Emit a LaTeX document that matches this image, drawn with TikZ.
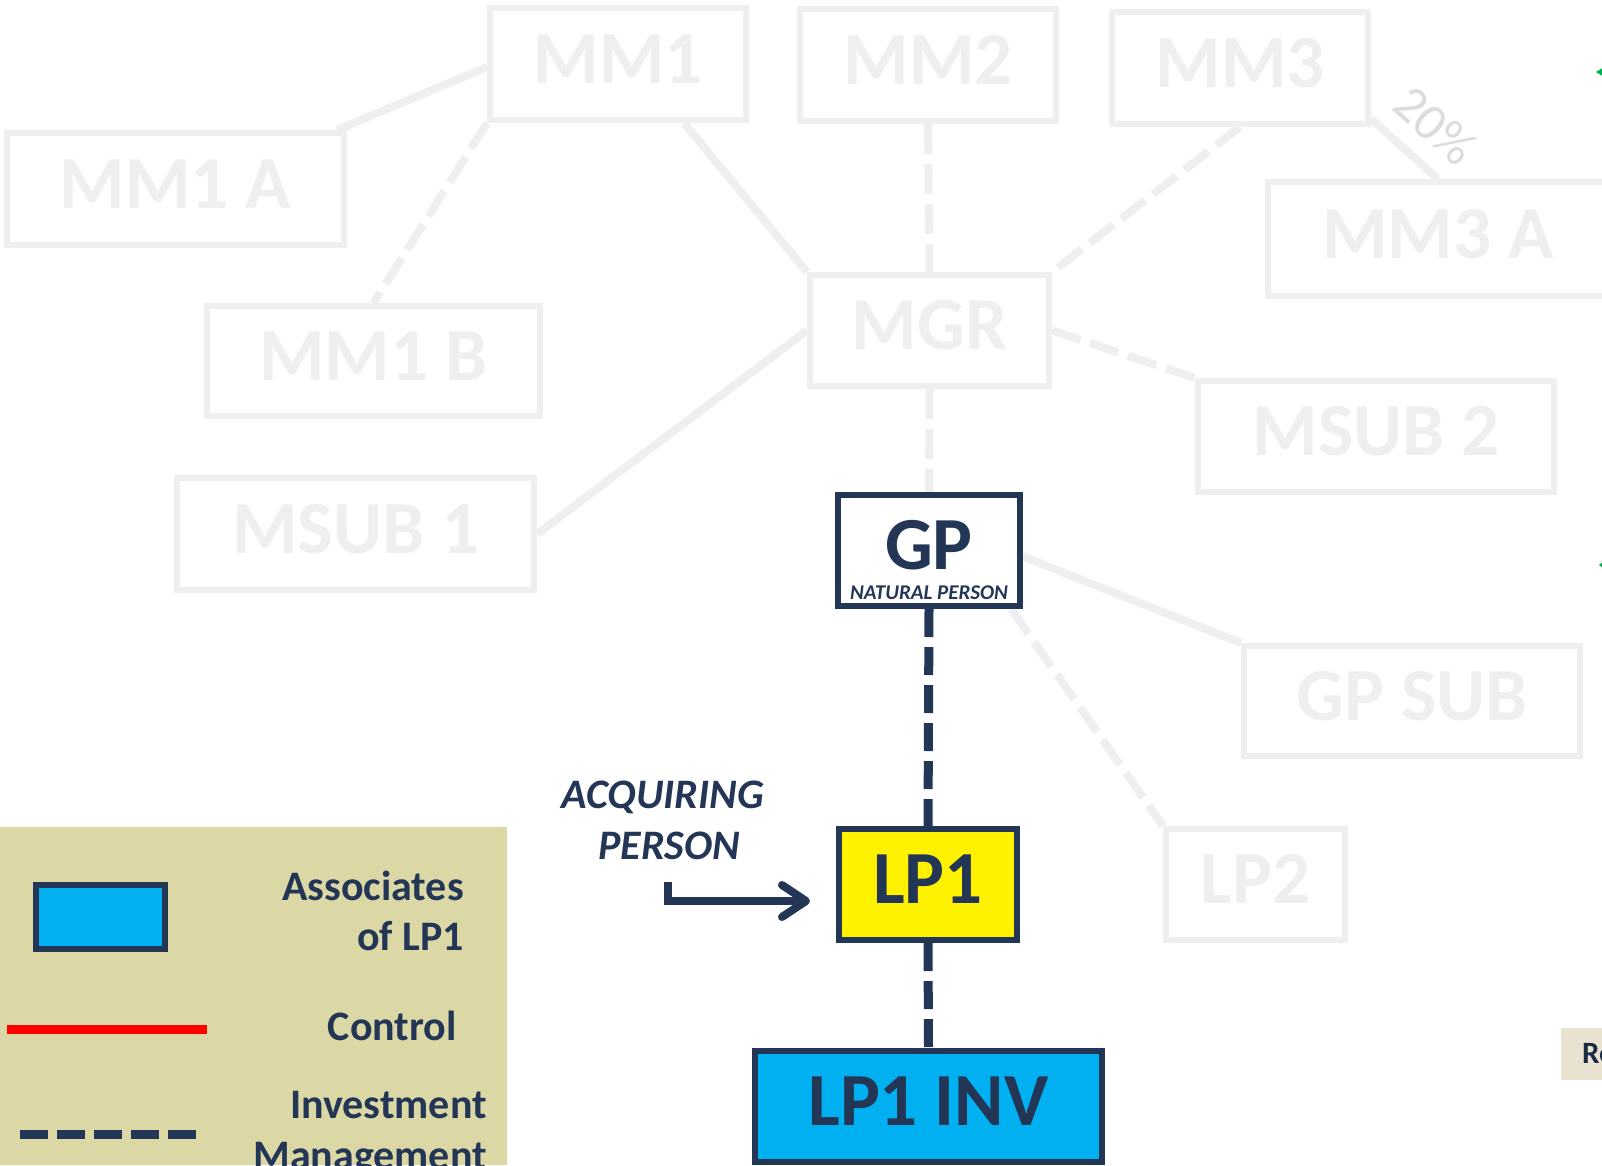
\documentclass[tikz,border=0pt]{standalone}
\usepackage{fontspec}
\setmainfont{Carlito}
\usetikzlibrary{arrows.meta,calc}
\definecolor{faint}{RGB}{238,239,241}
\definecolor{navy}{RGB}{35,54,86}
\definecolor{skyb}{RGB}{0,176,240}
\definecolor{legbg}{RGB}{220,216,166}
\definecolor{beige}{RGB}{233,226,208}
\definecolor{grn}{RGB}{0,176,80}
\begin{document}
\begin{tikzpicture}[x=1pt,y=-1pt,
  box/.style={draw=faint, fill=white, line width=6pt, inner sep=0pt,
    font=\fontsize{75}{80}\selectfont\bfseries, text=faint,
    text height=48pt, text depth=10pt},
  darkbox/.style={box, draw=navy, text=navy},
  fline/.style={draw=faint, line width=8pt},
  fdash/.style={fline, dash pattern=on 30pt off 10pt},
  ddash/.style={draw=navy, line width=9pt, dash pattern=on 28pt off 10pt},
  legtext/.style={text=navy, font=\fontsize{42}{50}\selectfont\bfseries, inner sep=0pt},
  acqtext/.style={text=navy, font=\fontsize{42}{50}\selectfont\bfseries\itshape, inner sep=0pt},
]
\pgfdeclarelayer{bg}
\pgfsetlayers{bg,main}
\useasboundingbox (0,0) rectangle (1602,1165);
\clip (0,0) rectangle (1602,1165);
\begin{pgfonlayer}{bg}
\fill[white] (0,0) rectangle (1602,1165);
\end{pgfonlayer}

% boxes
\node[box, minimum width=256pt, minimum height=112pt] (MM1) at (618,64) {MM1};
\node[box, minimum width=256pt, minimum height=112pt] (MM2) at (928,65) {MM2};
\node[box, minimum width=256pt, minimum height=112pt] (MM3) at (1240,68) {MM3};
\node[box, minimum width=337pt, minimum height=112pt] (MM1A) at (175.5,189) {MM1 A};
\node[box, minimum width=340pt, minimum height=114pt] (MM3A) at (1438,239) {MM3 A};
\node[box, minimum width=333pt, minimum height=110pt] (MM1B) at (373.5,361) {MM1 B};
\node[box, minimum width=239pt, minimum height=111pt] (MGR) at (929.5,330.5) {MGR};
\node[box, minimum width=356pt, minimum height=111pt] (MSUB2) at (1376,436.5) {MSUB 2};
\node[box, minimum width=357pt, minimum height=112pt] (MSUB1) at (355.5,534) {MSUB 1};
\node[box, minimum width=336pt, minimum height=110pt] (GPSUB) at (1412,701) {GP SUB};
\node[box, minimum width=179pt, minimum height=111pt] (LP2) at (1255.5,884.5) {LP2};
\node[darkbox, minimum width=182pt, minimum height=111pt] (GP) at (929,550.5) {};
\node[darkbox, fill=yellow, minimum width=178pt, minimum height=111pt] (LP1) at (928,884.5) {LP1};
\node[darkbox, fill=skyb, minimum width=347pt, minimum height=111pt] (LP1INV) at (928.5,1106) {LP1 INV};

\node[anchor=base, inner sep=0pt, text=navy, font=\fontsize{75}{80}\selectfont\bfseries] (GPt) at (929,569) {GP};
\node[anchor=base, inner sep=0pt, text=navy, font=\fontsize{21}{24}\selectfont\bfseries\itshape] (GPn) at (929,599) {NATURAL PERSON};

% connectors (behind boxes)
\begin{pgfonlayer}{bg}
\draw[fline] ($(MM1.west)+(0,3)$) -- ($(MM1A.north east)+(-10,0)$);
\draw[fdash] (MM1.south west) -- (MM1B.north);
\draw[fline] ($(MM1.south)+(66,0)$) -- (MGR.north west);
\draw[fdash] (MM2.south) -- (MGR.north);
\draw[fdash] (MM3.south) -- (MGR.north east);
\draw[fline] ($(MM3.south east)+(0,-8)$) -- (MM3A.north)
  node[pos=0.58, sloped, above=16pt, inner sep=0pt, text=faint!92!black, font=\fontsize{52}{52}\selectfont] (pct) {20\%};
\draw[fdash] (MGR.east) -- (MSUB2.north west);
\draw[fline] (MGR.west) -- (MSUB1.east);
\draw[fdash] (MGR.south) -- (GP.north);
\draw[fline] ($(GP.east)+(0,6)$) -- (GPSUB.north west);
\draw[fdash] ($(GP.south east)+(-12,0)$) -- (LP2.north west);
\draw[ddash] (GP.south) -- (LP1.north);
\draw[ddash] (LP1.south) -- (LP1INV.north);
\end{pgfonlayer}

% acquiring person
\node[acqtext, anchor=base] (acq1) at (663,808) {ACQUIRING};
\node[acqtext, anchor=base] (acq2) at (669,859) {PERSON};
\coordinate (acq) at (668,882);
\draw[navy, line width=8pt, -{Straight Barb[length=24pt,width=32pt,round]}]
  (acq) |- ($(LP1.west)+(-26,16.5)$);

% legend
\node[fill=legbg, minimum width=507pt, minimum height=338pt, inner sep=0pt, anchor=north west] (legend) at (0,827) {};
\node[draw=navy, fill=skyb, line width=6pt, minimum width=129pt, minimum height=64pt, inner sep=0pt] (legbox) at (100.5,917) {};
\coordinate (redA) at (7,1029);
\coordinate (redB) at (207,1029);
\draw[red, line width=9pt] (redA) -- (redB);
\coordinate (dA) at (20,1134);
\coordinate (dB) at (196,1134);
\draw[navy, line width=9pt, dash pattern=on 28pt off 9pt] (dA) -- (dB);
\node[legtext, anchor=base east] (l1) at (464,900) {Associates};
\node[legtext, anchor=base east] (l2) at (464,950) {of LP1};
\node[legtext, anchor=base east] (l3) at (457,1040) {Control};
\node[legtext, anchor=base east] (l4) at (487,1118) {Investment};
\node[legtext, anchor=base east] (l5) at (487,1169) {Management};

% right-edge fragments
\node[fill=beige, minimum width=50pt, minimum height=52pt, inner sep=0pt, anchor=north west] (rbox) at (1561,1028) {};
\node[anchor=base west, inner sep=0pt, text=navy!80!black, font=\fontsize{31}{34}\selectfont\bfseries] (rtext) at (1582,1063) {Re};
\fill[grn] (1596,72) -- (1604,67) -- (1604,77) -- cycle;
\fill[grn] (1599,565) -- (1604,561) -- (1604,569) -- cycle;
\end{tikzpicture}
\end{document}
